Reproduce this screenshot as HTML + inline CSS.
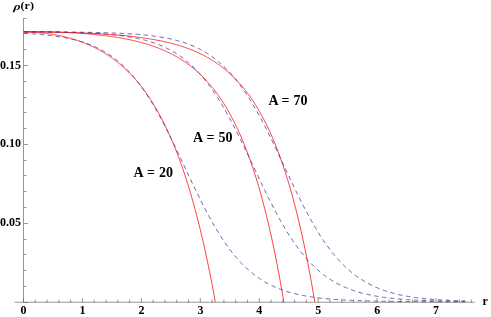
<!DOCTYPE html>
<html><head><meta charset="utf-8"><title>rho(r)</title>
<style>
html,body{margin:0;padding:0;background:#fff;}
body{width:491px;height:317px;overflow:hidden;font-family:"Liberation Serif",serif;}
svg{display:block;}
</style></head><body>
<svg width="491" height="317" viewBox="0 0 491 317">
<defs><filter id="gs" x="-0.02" y="-0.02" width="1.04" height="1.04" filterUnits="objectBoundingBox"><feOffset dx="0" dy="0"/></filter></defs>
<rect width="491" height="317" fill="#ffffff"/>
<path d="M23.70 32.12 L24.34 32.12 L24.98 32.12 L25.62 32.13 L26.26 32.14 L26.90 32.15 L27.54 32.16 L28.19 32.17 L28.83 32.19 L29.47 32.21 L30.11 32.23 L30.75 32.25 L31.39 32.28 L32.03 32.30 L32.67 32.33 L33.31 32.37 L33.95 32.40 L34.59 32.44 L35.23 32.47 L35.87 32.52 L36.51 32.56 L37.16 32.60 L37.80 32.65 L38.44 32.70 L39.08 32.75 L39.72 32.81 L40.36 32.86 L41.00 32.92 L41.64 32.98 L42.28 33.05 L42.92 33.11 L43.56 33.18 L44.20 33.25 L44.84 33.32 L45.49 33.40 L46.13 33.48 L46.77 33.56 L47.41 33.64 L48.05 33.72 L48.69 33.81 L49.33 33.90 L49.97 33.99 L50.61 34.09 L51.25 34.18 L51.89 34.28 L52.53 34.38 L53.17 34.49 L53.81 34.59 L54.46 34.70 L55.10 34.82 L55.74 34.93 L56.38 35.05 L57.02 35.17 L57.66 35.29 L58.30 35.41 L58.94 35.54 L59.58 35.67 L60.22 35.80 L60.86 35.94 L61.50 36.08 L62.14 36.22 L62.79 36.36 L63.43 36.51 L64.07 36.66 L64.71 36.81 L65.35 36.97 L65.99 37.12 L66.63 37.28 L67.27 37.45 L67.91 37.62 L68.55 37.78 L69.19 37.96 L69.83 38.13 L70.47 38.31 L71.11 38.49 L71.76 38.68 L72.40 38.87 L73.04 39.06 L73.68 39.25 L74.32 39.45 L74.96 39.65 L75.60 39.85 L76.24 40.06 L76.88 40.27 L77.52 40.49 L78.16 40.70 L78.80 40.92 L79.44 41.15 L80.08 41.38 L80.73 41.61 L81.37 41.84 L82.01 42.08 L82.65 42.32 L83.29 42.57 L83.93 42.82 L84.57 43.07 L85.21 43.33 L85.85 43.59 L86.49 43.85 L87.13 44.12 L87.77 44.39 L88.41 44.67 L89.06 44.95 L89.70 45.23 L90.34 45.52 L90.98 45.81 L91.62 46.11 L92.26 46.41 L92.90 46.72 L93.54 47.02 L94.18 47.34 L94.82 47.66 L95.46 47.98 L96.10 48.31 L96.74 48.64 L97.38 48.97 L98.03 49.31 L98.67 49.66 L99.31 50.01 L99.95 50.36 L100.59 50.72 L101.23 51.09 L101.87 51.46 L102.51 51.83 L103.15 52.21 L103.79 52.60 L104.43 52.98 L105.07 53.38 L105.71 53.78 L106.36 54.19 L107.00 54.60 L107.64 55.01 L108.28 55.44 L108.92 55.86 L109.56 56.30 L110.20 56.74 L110.84 57.18 L111.48 57.63 L112.12 58.09 L112.76 58.55 L113.40 59.02 L114.04 59.49 L114.68 59.97 L115.33 60.46 L115.97 60.96 L116.61 61.46 L117.25 61.96 L117.89 62.47 L118.53 62.99 L119.17 63.52 L119.81 64.05 L120.45 64.59 L121.09 65.14 L121.73 65.70 L122.37 66.26 L123.01 66.83 L123.66 67.40 L124.30 67.99 L124.94 68.58 L125.58 69.17 L126.22 69.78 L126.86 70.40 L127.50 71.02 L128.14 71.65 L128.78 72.28 L129.42 72.93 L130.06 73.58 L130.70 74.25 L131.34 74.92 L131.98 75.60 L132.63 76.29 L133.27 76.98 L133.91 77.69 L134.55 78.40 L135.19 79.13 L135.83 79.86 L136.47 80.60 L137.11 81.36 L137.75 82.12 L138.39 82.89 L139.03 83.67 L139.67 84.46 L140.31 85.26 L140.96 86.07 L141.60 86.90 L142.24 87.73 L142.88 88.57 L143.52 89.42 L144.16 90.29 L144.80 91.16 L145.44 92.05 L146.08 92.95 L146.72 93.86 L147.36 94.78 L148.00 95.71 L148.64 96.65 L149.28 97.61 L149.93 98.58 L150.57 99.56 L151.21 100.55 L151.85 101.56 L152.49 102.57 L153.13 103.61 L153.77 104.65 L154.41 105.71 L155.05 106.78 L155.69 107.86 L156.33 108.96 L156.97 110.07 L157.61 111.20 L158.25 112.34 L158.90 113.49 L159.54 114.66 L160.18 115.85 L160.82 117.05 L161.46 118.26 L162.10 119.49 L162.74 120.74 L163.38 122.00 L164.02 123.28 L164.66 124.57 L165.30 125.88 L165.94 127.21 L166.58 128.55 L167.23 129.91 L167.87 131.29 L168.51 132.69 L169.15 134.10 L169.79 135.53 L170.43 136.98 L171.07 138.45 L171.71 139.94 L172.35 141.44 L172.99 142.97 L173.63 144.51 L174.27 146.08 L174.91 147.66 L175.55 149.27 L176.20 150.89 L176.84 152.54 L177.48 154.20 L178.12 155.89 L178.76 157.60 L179.40 159.33 L180.04 161.08 L180.68 162.86 L181.32 164.66 L181.96 166.48 L182.60 168.32 L183.24 170.19 L183.88 172.08 L184.53 174.00 L185.17 175.94 L185.81 177.91 L186.45 179.90 L187.09 181.91 L187.73 183.96 L188.37 186.02 L189.01 188.12 L189.65 190.24 L190.29 192.39 L190.93 194.57 L191.57 196.77 L192.21 199.00 L192.85 201.27 L193.50 203.56 L194.14 205.88 L194.78 208.23 L195.42 210.61 L196.06 213.02 L196.70 215.46 L197.34 217.93 L197.98 220.44 L198.62 222.97 L199.26 225.54 L199.90 228.15 L200.54 230.78 L201.18 233.46 L201.83 236.16 L202.47 238.90 L203.11 241.68 L203.75 244.49 L204.39 247.34 L205.03 250.22 L205.67 253.14 L206.31 256.10 L206.95 259.10 L207.59 262.14 L208.23 265.21 L208.87 268.33 L209.51 271.49 L210.15 274.68 L210.80 277.92 L211.44 281.20 L212.08 284.53 L212.72 287.89 L213.36 291.30 L214.00 294.76 L214.64 298.26 L215.28 301.80" fill="none" stroke="#ff0000" stroke-width="0.75"/>
<path d="M23.70 33.33 L24.81 33.39 L25.91 33.45 L27.02 33.52 L28.13 33.58 L29.23 33.65 L30.34 33.72 L31.45 33.80 L32.55 33.87 L33.66 33.95 L34.77 34.03 L35.87 34.11 L36.98 34.20 L38.09 34.29 L39.19 34.38 L40.30 34.48 L41.41 34.58 L42.51 34.68 L43.62 34.79 L44.72 34.90 L45.83 35.01 L46.94 35.13 L48.04 35.25 L49.15 35.38 L50.26 35.51 L51.36 35.65 L52.47 35.78 L53.58 35.93 L54.68 36.08 L55.79 36.23 L56.90 36.39 L58.00 36.56 L59.11 36.73 L60.22 36.91 L61.32 37.09 L62.43 37.28 L63.54 37.47 L64.64 37.68 L65.75 37.89 L66.86 38.10 L67.96 38.33 L69.07 38.56 L70.18 38.80 L71.28 39.04 L72.39 39.30 L73.50 39.56 L74.60 39.83 L75.71 40.11 L76.82 40.40 L77.92 40.71 L79.03 41.02 L80.14 41.34 L81.24 41.67 L82.35 42.01 L83.46 42.36 L84.56 42.73 L85.67 43.10 L86.77 43.49 L87.88 43.89 L88.99 44.31 L90.09 44.74 L91.20 45.18 L92.31 45.63 L93.41 46.10 L94.52 46.59 L95.63 47.09 L96.73 47.60 L97.84 48.13 L98.95 48.68 L100.05 49.25 L101.16 49.83 L102.27 50.43 L103.37 51.05 L104.48 51.69 L105.59 52.34 L106.69 53.02 L107.80 53.72 L108.91 54.43 L110.01 55.17 L111.12 55.93 L112.23 56.71 L113.33 57.52 L114.44 58.35 L115.55 59.20 L116.65 60.07 L117.76 60.97 L118.87 61.89 L119.97 62.84 L121.08 63.82 L122.19 64.82 L123.29 65.85 L124.40 66.91 L125.51 67.99 L126.61 69.10 L127.72 70.24 L128.82 71.41 L129.93 72.60 L131.04 73.83 L132.14 75.09 L133.25 76.37 L134.36 77.69 L135.46 79.04 L136.57 80.42 L137.68 81.82 L138.78 83.26 L139.89 84.74 L141.00 86.24 L142.10 87.78 L143.21 89.34 L144.32 90.94 L145.42 92.57 L146.53 94.23 L147.64 95.92 L148.74 97.65 L149.85 99.40 L150.96 101.19 L152.06 103.00 L153.17 104.85 L154.28 106.73 L155.38 108.63 L156.49 110.57 L157.60 112.53 L158.70 114.52 L159.81 116.53 L160.92 118.58 L162.02 120.65 L163.13 122.74 L164.24 124.86 L165.34 127.00 L166.45 129.16 L167.56 131.34 L168.66 133.55 L169.77 135.77 L170.87 138.01 L171.98 140.27 L173.09 142.54 L174.19 144.83 L175.30 147.13 L176.41 149.44 L177.51 151.76 L178.62 154.09 L179.73 156.43 L180.83 158.77 L181.94 161.12 L183.05 163.47 L184.15 165.83 L185.26 168.18 L186.37 170.54 L187.47 172.89 L188.58 175.24 L189.69 177.58 L190.79 179.92 L191.90 182.25 L193.01 184.57 L194.11 186.88 L195.22 189.17 L196.33 191.46 L197.43 193.72 L198.54 195.98 L199.65 198.21 L200.75 200.43 L201.86 202.63 L202.97 204.81 L204.07 206.97 L205.18 209.10 L206.29 211.21 L207.39 213.30 L208.50 215.36 L209.61 217.40 L210.71 219.41 L211.82 221.39 L212.92 223.35 L214.03 225.28 L215.14 227.17 L216.24 229.04 L217.35 230.88 L218.46 232.69 L219.56 234.47 L220.67 236.22 L221.78 237.93 L222.88 239.62 L223.99 241.27 L225.10 242.89 L226.20 244.48 L227.31 246.04 L228.42 247.57 L229.52 249.07 L230.63 250.53 L231.74 251.96 L232.84 253.37 L233.95 254.74 L235.06 256.08 L236.16 257.39 L237.27 258.67 L238.38 259.91 L239.48 261.13 L240.59 262.32 L241.70 263.48 L242.80 264.62 L243.91 265.72 L245.02 266.80 L246.12 267.85 L247.23 268.87 L248.34 269.86 L249.44 270.83 L250.55 271.78 L251.66 272.69 L252.76 273.59 L253.87 274.46 L254.97 275.30 L256.08 276.12 L257.19 276.92 L258.29 277.70 L259.40 278.45 L260.51 279.19 L261.61 279.90 L262.72 280.59 L263.83 281.26 L264.93 281.91 L266.04 282.55 L267.15 283.16 L268.25 283.76 L269.36 284.34 L270.47 284.90 L271.57 285.44 L272.68 285.97 L273.79 286.48 L274.89 286.98 L276.00 287.46 L277.11 287.92 L278.21 288.38 L279.32 288.81 L280.43 289.24 L281.53 289.65 L282.64 290.05 L283.75 290.43 L284.85 290.81 L285.96 291.17 L287.07 291.52 L288.17 291.86 L289.28 292.19 L290.39 292.51 L291.49 292.81 L292.60 293.11 L293.71 293.40 L294.81 293.68 L295.92 293.95 L297.02 294.21 L298.13 294.46 L299.24 294.71 L300.34 294.95 L301.45 295.18 L302.56 295.40 L303.66 295.61 L304.77 295.82 L305.88 296.02 L306.98 296.21 L308.09 296.40 L309.20 296.58 L310.30 296.76 L311.41 296.93 L312.52 297.09 L313.62 297.25 L314.73 297.40 L315.84 297.55 L316.94 297.70 L318.05 297.83 L319.16 297.97 L320.26 298.10 L321.37 298.22 L322.48 298.34 L323.58 298.46 L324.69 298.57 L325.80 298.68 L326.90 298.79 L328.01 298.89 L329.12 298.99 L330.22 299.09 L331.33 299.18 L332.44 299.27 L333.54 299.35 L334.65 299.44 L335.76 299.52 L336.86 299.59 L337.97 299.67 L339.07 299.74 L340.18 299.81 L341.29 299.88 L342.39 299.94 L343.50 300.01 L344.61 300.07 L345.71 300.13 L346.82 300.18 L347.93 300.24 L349.03 300.29 L350.14 300.34 L351.25 300.39 L352.35 300.44 L353.46 300.49 L354.57 300.53 L355.67 300.58 L356.78 300.62 L357.89 300.66 L358.99 300.70 L360.10 300.73 L361.21 300.77 L362.31 300.81 L363.42 300.84 L364.53 300.87 L365.63 300.90 L366.74 300.94 L367.85 300.96 L368.95 300.99 L370.06 301.02 L371.17 301.05 L372.27 301.07 L373.38 301.10 L374.49 301.12 L375.59 301.15 L376.70 301.17 L377.81 301.19 L378.91 301.21 L380.02 301.23 L381.12 301.25 L382.23 301.27 L383.34 301.29 L384.44 301.30 L385.55 301.32 L386.66 301.34 L387.76 301.35 L388.87 301.37 L389.98 301.38 L391.08 301.40 L392.19 301.41 L393.30 301.42 L394.40 301.44 L395.51 301.45 L396.62 301.46 L397.72 301.47 L398.83 301.48 L399.94 301.50 L401.04 301.51 L402.15 301.52 L403.26 301.53 L404.36 301.54 L405.47 301.54 L406.58 301.55 L407.68 301.56 L408.79 301.57 L409.90 301.58 L411.00 301.59 L412.11 301.59 L413.22 301.60 L414.32 301.61 L415.43 301.61 L416.54 301.62 L417.64 301.63 L418.75 301.63 L419.86 301.64 L420.96 301.64 L422.07 301.65 L423.17 301.65 L424.28 301.66 L425.39 301.66 L426.49 301.67 L427.60 301.67 L428.71 301.68 L429.81 301.68 L430.92 301.69 L432.03 301.69 L433.13 301.69 L434.24 301.70 L435.35 301.70 L436.45 301.70 L437.56 301.71 L438.67 301.71 L439.77 301.71 L440.88 301.72 L441.99 301.72 L443.09 301.72 L444.20 301.72 L445.31 301.73 L446.41 301.73 L447.52 301.73 L448.63 301.73 L449.73 301.74 L450.84 301.74 L451.95 301.74 L453.05 301.74 L454.16 301.74 L455.27 301.75 L456.37 301.75 L457.48 301.75 L458.59 301.75 L459.69 301.75 L460.80 301.76 L461.91 301.76 L463.01 301.76 L464.12 301.76 L465.22 301.76" fill="none" stroke="#3d3d99" stroke-width="0.8" stroke-dasharray="4.5 3.5"/>
<path d="M23.70 31.49 L24.57 31.49 L25.44 31.49 L26.31 31.49 L27.18 31.49 L28.05 31.50 L28.92 31.50 L29.79 31.51 L30.66 31.51 L31.53 31.52 L32.40 31.53 L33.27 31.54 L34.14 31.54 L35.01 31.55 L35.88 31.56 L36.75 31.58 L37.62 31.59 L38.49 31.60 L39.36 31.61 L40.23 31.63 L41.10 31.64 L41.97 31.66 L42.84 31.68 L43.71 31.70 L44.58 31.71 L45.45 31.73 L46.32 31.75 L47.19 31.78 L48.06 31.80 L48.93 31.82 L49.80 31.84 L50.67 31.87 L51.54 31.89 L52.41 31.92 L53.28 31.95 L54.15 31.98 L55.02 32.01 L55.89 32.04 L56.76 32.07 L57.63 32.10 L58.50 32.13 L59.37 32.17 L60.24 32.20 L61.11 32.24 L61.98 32.27 L62.85 32.31 L63.72 32.35 L64.59 32.39 L65.46 32.43 L66.33 32.47 L67.20 32.52 L68.07 32.56 L68.94 32.60 L69.81 32.65 L70.68 32.70 L71.55 32.75 L72.42 32.80 L73.29 32.85 L74.16 32.90 L75.03 32.95 L75.90 33.01 L76.77 33.06 L77.64 33.12 L78.51 33.18 L79.38 33.24 L80.25 33.30 L81.12 33.36 L81.99 33.43 L82.86 33.49 L83.73 33.56 L84.60 33.62 L85.47 33.69 L86.34 33.76 L87.21 33.84 L88.08 33.91 L88.95 33.98 L89.82 34.06 L90.69 34.14 L91.56 34.22 L92.43 34.30 L93.29 34.38 L94.16 34.47 L95.03 34.55 L95.90 34.64 L96.77 34.73 L97.64 34.82 L98.51 34.92 L99.38 35.01 L100.25 35.11 L101.12 35.21 L101.99 35.31 L102.86 35.41 L103.73 35.52 L104.60 35.62 L105.47 35.73 L106.34 35.84 L107.21 35.96 L108.08 36.07 L108.95 36.19 L109.82 36.31 L110.69 36.43 L111.56 36.56 L112.43 36.68 L113.30 36.81 L114.17 36.94 L115.04 37.08 L115.91 37.21 L116.78 37.35 L117.65 37.49 L118.52 37.64 L119.39 37.78 L120.26 37.93 L121.13 38.09 L122.00 38.24 L122.87 38.40 L123.74 38.56 L124.61 38.73 L125.48 38.89 L126.35 39.06 L127.22 39.24 L128.09 39.41 L128.96 39.59 L129.83 39.78 L130.70 39.96 L131.57 40.16 L132.44 40.35 L133.31 40.55 L134.18 40.75 L135.05 40.95 L135.92 41.16 L136.79 41.37 L137.66 41.59 L138.53 41.81 L139.40 42.04 L140.27 42.26 L141.14 42.50 L142.01 42.73 L142.88 42.98 L143.75 43.22 L144.62 43.47 L145.49 43.73 L146.36 43.99 L147.23 44.25 L148.10 44.52 L148.97 44.80 L149.84 45.08 L150.71 45.36 L151.58 45.65 L152.45 45.95 L153.32 46.25 L154.19 46.56 L155.06 46.87 L155.93 47.19 L156.80 47.51 L157.67 47.84 L158.54 48.18 L159.41 48.52 L160.28 48.87 L161.15 49.22 L162.02 49.58 L162.89 49.95 L163.76 50.33 L164.63 50.71 L165.50 51.10 L166.37 51.50 L167.24 51.90 L168.11 52.31 L168.98 52.73 L169.85 53.16 L170.72 53.60 L171.59 54.04 L172.46 54.49 L173.33 54.95 L174.20 55.42 L175.07 55.90 L175.94 56.38 L176.81 56.88 L177.68 57.38 L178.55 57.90 L179.42 58.42 L180.29 58.95 L181.16 59.50 L182.03 60.05 L182.90 60.61 L183.77 61.19 L184.64 61.77 L185.51 62.37 L186.38 62.98 L187.25 63.60 L188.12 64.23 L188.99 64.87 L189.86 65.53 L190.73 66.19 L191.60 66.87 L192.47 67.56 L193.34 68.27 L194.21 68.99 L195.08 69.72 L195.95 70.47 L196.82 71.23 L197.69 72.00 L198.56 72.79 L199.43 73.60 L200.30 74.42 L201.17 75.25 L202.04 76.10 L202.91 76.97 L203.78 77.85 L204.65 78.75 L205.52 79.67 L206.39 80.60 L207.26 81.56 L208.13 82.53 L209.00 83.52 L209.87 84.52 L210.74 85.55 L211.61 86.60 L212.48 87.66 L213.35 88.75 L214.22 89.86 L215.09 90.99 L215.96 92.14 L216.83 93.31 L217.70 94.51 L218.57 95.72 L219.44 96.96 L220.31 98.23 L221.18 99.52 L222.05 100.83 L222.92 102.17 L223.79 103.53 L224.66 104.92 L225.53 106.34 L226.40 107.79 L227.27 109.26 L228.14 110.76 L229.01 112.29 L229.88 113.85 L230.75 115.44 L231.61 117.06 L232.48 118.71 L233.35 120.39 L234.22 122.11 L235.09 123.85 L235.96 125.64 L236.83 127.45 L237.70 129.30 L238.57 131.19 L239.44 133.11 L240.31 135.07 L241.18 137.07 L242.05 139.11 L242.92 141.19 L243.79 143.31 L244.66 145.46 L245.53 147.66 L246.40 149.91 L247.27 152.19 L248.14 154.52 L249.01 156.90 L249.88 159.32 L250.75 161.79 L251.62 164.31 L252.49 166.88 L253.36 169.49 L254.23 172.16 L255.10 174.88 L255.97 177.65 L256.84 180.48 L257.71 183.36 L258.58 186.30 L259.45 189.29 L260.32 192.35 L261.19 195.46 L262.06 198.63 L262.93 201.87 L263.80 205.17 L264.67 208.53 L265.54 211.96 L266.41 215.46 L267.28 219.03 L268.15 222.66 L269.02 226.37 L269.89 230.15 L270.76 234.00 L271.63 237.93 L272.50 241.94 L273.37 246.02 L274.24 250.19 L275.11 254.44 L275.98 258.77 L276.85 263.19 L277.72 267.69 L278.59 272.28 L279.46 276.96 L280.33 281.74 L281.20 286.61 L282.07 291.57 L282.94 296.64 L283.81 301.80" fill="none" stroke="#ff0000" stroke-width="0.75"/>
<path d="M23.70 31.69 L24.81 31.70 L25.91 31.70 L27.02 31.71 L28.13 31.72 L29.23 31.73 L30.34 31.74 L31.45 31.75 L32.55 31.75 L33.66 31.76 L34.77 31.77 L35.87 31.78 L36.98 31.79 L38.09 31.80 L39.19 31.82 L40.30 31.83 L41.41 31.84 L42.51 31.85 L43.62 31.86 L44.72 31.88 L45.83 31.89 L46.94 31.91 L48.04 31.92 L49.15 31.94 L50.26 31.95 L51.36 31.97 L52.47 31.98 L53.58 32.00 L54.68 32.02 L55.79 32.04 L56.90 32.06 L58.00 32.08 L59.11 32.10 L60.22 32.12 L61.32 32.14 L62.43 32.17 L63.54 32.19 L64.64 32.21 L65.75 32.24 L66.86 32.27 L67.96 32.29 L69.07 32.32 L70.18 32.35 L71.28 32.38 L72.39 32.41 L73.50 32.44 L74.60 32.48 L75.71 32.51 L76.82 32.55 L77.92 32.59 L79.03 32.62 L80.14 32.66 L81.24 32.71 L82.35 32.75 L83.46 32.79 L84.56 32.84 L85.67 32.89 L86.77 32.94 L87.88 32.99 L88.99 33.04 L90.09 33.09 L91.20 33.15 L92.31 33.21 L93.41 33.27 L94.52 33.33 L95.63 33.39 L96.73 33.46 L97.84 33.53 L98.95 33.60 L100.05 33.68 L101.16 33.75 L102.27 33.83 L103.37 33.91 L104.48 34.00 L105.59 34.09 L106.69 34.18 L107.80 34.27 L108.91 34.37 L110.01 34.47 L111.12 34.57 L112.23 34.68 L113.33 34.79 L114.44 34.91 L115.55 35.03 L116.65 35.15 L117.76 35.28 L118.87 35.41 L119.97 35.54 L121.08 35.68 L122.19 35.83 L123.29 35.98 L124.40 36.14 L125.51 36.30 L126.61 36.46 L127.72 36.64 L128.82 36.81 L129.93 37.00 L131.04 37.19 L132.14 37.39 L133.25 37.59 L134.36 37.80 L135.46 38.02 L136.57 38.24 L137.68 38.47 L138.78 38.71 L139.89 38.96 L141.00 39.22 L142.10 39.48 L143.21 39.75 L144.32 40.04 L145.42 40.33 L146.53 40.63 L147.64 40.94 L148.74 41.26 L149.85 41.59 L150.96 41.94 L152.06 42.29 L153.17 42.66 L154.28 43.03 L155.38 43.42 L156.49 43.82 L157.60 44.24 L158.70 44.67 L159.81 45.11 L160.92 45.56 L162.02 46.03 L163.13 46.52 L164.24 47.02 L165.34 47.53 L166.45 48.07 L167.56 48.61 L168.66 49.18 L169.77 49.76 L170.87 50.36 L171.98 50.98 L173.09 51.61 L174.19 52.27 L175.30 52.94 L176.41 53.64 L177.51 54.36 L178.62 55.09 L179.73 55.85 L180.83 56.63 L181.94 57.43 L183.05 58.26 L184.15 59.10 L185.26 59.97 L186.37 60.87 L187.47 61.79 L188.58 62.74 L189.69 63.71 L190.79 64.70 L191.90 65.73 L193.01 66.78 L194.11 67.86 L195.22 68.96 L196.33 70.09 L197.43 71.26 L198.54 72.45 L199.65 73.67 L200.75 74.92 L201.86 76.19 L202.97 77.50 L204.07 78.84 L205.18 80.21 L206.29 81.61 L207.39 83.04 L208.50 84.51 L209.61 86.00 L210.71 87.52 L211.82 89.08 L212.92 90.67 L214.03 92.29 L215.14 93.93 L216.24 95.62 L217.35 97.33 L218.46 99.07 L219.56 100.84 L220.67 102.64 L221.78 104.48 L222.88 106.34 L223.99 108.23 L225.10 110.15 L226.20 112.10 L227.31 114.07 L228.42 116.08 L229.52 118.10 L230.63 120.16 L231.74 122.24 L232.84 124.34 L233.95 126.46 L235.06 128.61 L236.16 130.78 L237.27 132.97 L238.38 135.17 L239.48 137.40 L240.59 139.64 L241.70 141.90 L242.80 144.17 L243.91 146.45 L245.02 148.75 L246.12 151.06 L247.23 153.37 L248.34 155.70 L249.44 158.03 L250.55 160.36 L251.66 162.70 L252.76 165.05 L253.87 167.39 L254.97 169.73 L256.08 172.07 L257.19 174.41 L258.29 176.74 L259.40 179.07 L260.51 181.39 L261.61 183.70 L262.72 186.00 L263.83 188.29 L264.93 190.57 L266.04 192.83 L267.15 195.08 L268.25 197.31 L269.36 199.52 L270.47 201.72 L271.57 203.89 L272.68 206.05 L273.79 208.18 L274.89 210.29 L276.00 212.38 L277.11 214.44 L278.21 216.48 L279.32 218.49 L280.43 220.47 L281.53 222.43 L282.64 224.36 L283.75 226.26 L284.85 228.14 L285.96 229.98 L287.07 231.79 L288.17 233.58 L289.28 235.33 L290.39 237.05 L291.49 238.75 L292.60 240.41 L293.71 242.04 L294.81 243.63 L295.92 245.20 L297.02 246.74 L298.13 248.24 L299.24 249.72 L300.34 251.16 L301.45 252.57 L302.56 253.95 L303.66 255.30 L304.77 256.62 L305.88 257.91 L306.98 259.17 L308.09 260.40 L309.20 261.60 L310.30 262.77 L311.41 263.92 L312.52 265.03 L313.62 266.12 L314.73 267.18 L315.84 268.21 L316.94 269.22 L318.05 270.20 L319.16 271.16 L320.26 272.09 L321.37 272.99 L322.48 273.87 L323.58 274.73 L324.69 275.56 L325.80 276.37 L326.90 277.16 L328.01 277.92 L329.12 278.67 L330.22 279.39 L331.33 280.09 L332.44 280.78 L333.54 281.44 L334.65 282.08 L335.76 282.71 L336.86 283.31 L337.97 283.90 L339.07 284.47 L340.18 285.03 L341.29 285.56 L342.39 286.08 L343.50 286.59 L344.61 287.08 L345.71 287.55 L346.82 288.02 L347.93 288.46 L349.03 288.89 L350.14 289.31 L351.25 289.72 L352.35 290.11 L353.46 290.50 L354.57 290.87 L355.67 291.22 L356.78 291.57 L357.89 291.91 L358.99 292.23 L360.10 292.55 L361.21 292.85 L362.31 293.15 L363.42 293.43 L364.53 293.71 L365.63 293.98 L366.74 294.24 L367.85 294.49 L368.95 294.73 L370.06 294.96 L371.17 295.19 L372.27 295.41 L373.38 295.62 L374.49 295.83 L375.59 296.03 L376.70 296.22 L377.81 296.41 L378.91 296.59 L380.02 296.76 L381.12 296.93 L382.23 297.09 L383.34 297.25 L384.44 297.40 L385.55 297.55 L386.66 297.69 L387.76 297.83 L388.87 297.97 L389.98 298.09 L391.08 298.22 L392.19 298.34 L393.30 298.46 L394.40 298.57 L395.51 298.68 L396.62 298.78 L397.72 298.88 L398.83 298.98 L399.94 299.08 L401.04 299.17 L402.15 299.26 L403.26 299.34 L404.36 299.43 L405.47 299.51 L406.58 299.58 L407.68 299.66 L408.79 299.73 L409.90 299.80 L411.00 299.87 L412.11 299.94 L413.22 300.00 L414.32 300.06 L415.43 300.12 L416.54 300.18 L417.64 300.23 L418.75 300.28 L419.86 300.33 L420.96 300.38 L422.07 300.43 L423.17 300.48 L424.28 300.52 L425.39 300.57 L426.49 300.61 L427.60 300.65 L428.71 300.69 L429.81 300.73 L430.92 300.76 L432.03 300.80 L433.13 300.83 L434.24 300.86 L435.35 300.90 L436.45 300.93 L437.56 300.96 L438.67 300.99 L439.77 301.01 L440.88 301.04 L441.99 301.07 L443.09 301.09 L444.20 301.11 L445.31 301.14 L446.41 301.16 L447.52 301.18 L448.63 301.20 L449.73 301.22 L450.84 301.24 L451.95 301.26 L453.05 301.28 L454.16 301.30 L455.27 301.32 L456.37 301.33 L457.48 301.35 L458.59 301.36 L459.69 301.38 L460.80 301.39 L461.91 301.41 L463.01 301.42 L464.12 301.43 L465.22 301.44" fill="none" stroke="#3d3d99" stroke-width="0.8" stroke-dasharray="4.5 3.5"/>
<path d="M23.70 31.96 L24.67 31.96 L25.65 31.96 L26.62 31.96 L27.59 31.97 L28.57 31.97 L29.54 31.97 L30.51 31.97 L31.49 31.98 L32.46 31.98 L33.44 31.99 L34.41 31.99 L35.38 32.00 L36.36 32.00 L37.33 32.01 L38.30 32.02 L39.28 32.03 L40.25 32.03 L41.22 32.04 L42.20 32.05 L43.17 32.06 L44.14 32.07 L45.12 32.08 L46.09 32.09 L47.06 32.11 L48.04 32.12 L49.01 32.13 L49.98 32.15 L50.96 32.16 L51.93 32.18 L52.91 32.19 L53.88 32.21 L54.85 32.22 L55.83 32.24 L56.80 32.26 L57.77 32.28 L58.75 32.29 L59.72 32.31 L60.69 32.33 L61.67 32.36 L62.64 32.38 L63.61 32.40 L64.59 32.42 L65.56 32.45 L66.53 32.47 L67.51 32.49 L68.48 32.52 L69.45 32.55 L70.43 32.57 L71.40 32.60 L72.38 32.63 L73.35 32.66 L74.32 32.69 L75.30 32.72 L76.27 32.75 L77.24 32.78 L78.22 32.81 L79.19 32.85 L80.16 32.88 L81.14 32.92 L82.11 32.95 L83.08 32.99 L84.06 33.03 L85.03 33.07 L86.00 33.11 L86.98 33.15 L87.95 33.19 L88.92 33.23 L89.90 33.28 L90.87 33.32 L91.85 33.37 L92.82 33.42 L93.79 33.46 L94.77 33.51 L95.74 33.56 L96.71 33.61 L97.69 33.66 L98.66 33.72 L99.63 33.77 L100.61 33.83 L101.58 33.89 L102.55 33.94 L103.53 34.00 L104.50 34.06 L105.47 34.13 L106.45 34.19 L107.42 34.25 L108.39 34.32 L109.37 34.39 L110.34 34.46 L111.32 34.53 L112.29 34.60 L113.26 34.67 L114.24 34.75 L115.21 34.82 L116.18 34.90 L117.16 34.98 L118.13 35.06 L119.10 35.14 L120.08 35.23 L121.05 35.32 L122.02 35.40 L123.00 35.49 L123.97 35.59 L124.94 35.68 L125.92 35.78 L126.89 35.87 L127.86 35.97 L128.84 36.08 L129.81 36.18 L130.79 36.29 L131.76 36.39 L132.73 36.51 L133.71 36.62 L134.68 36.73 L135.65 36.85 L136.63 36.97 L137.60 37.09 L138.57 37.22 L139.55 37.35 L140.52 37.48 L141.49 37.61 L142.47 37.75 L143.44 37.88 L144.41 38.03 L145.39 38.17 L146.36 38.32 L147.33 38.47 L148.31 38.62 L149.28 38.78 L150.26 38.94 L151.23 39.10 L152.20 39.27 L153.18 39.44 L154.15 39.61 L155.12 39.79 L156.10 39.97 L157.07 40.15 L158.04 40.34 L159.02 40.54 L159.99 40.73 L160.96 40.93 L161.94 41.14 L162.91 41.35 L163.88 41.56 L164.86 41.78 L165.83 42.00 L166.80 42.22 L167.78 42.46 L168.75 42.69 L169.73 42.93 L170.70 43.18 L171.67 43.43 L172.65 43.69 L173.62 43.95 L174.59 44.22 L175.57 44.49 L176.54 44.77 L177.51 45.05 L178.49 45.34 L179.46 45.64 L180.43 45.94 L181.41 46.25 L182.38 46.56 L183.35 46.89 L184.33 47.21 L185.30 47.55 L186.27 47.89 L187.25 48.24 L188.22 48.60 L189.20 48.96 L190.17 49.33 L191.14 49.71 L192.12 50.10 L193.09 50.50 L194.06 50.90 L195.04 51.32 L196.01 51.74 L196.98 52.17 L197.96 52.61 L198.93 53.06 L199.90 53.51 L200.88 53.98 L201.85 54.46 L202.82 54.95 L203.80 55.45 L204.77 55.95 L205.74 56.47 L206.72 57.00 L207.69 57.55 L208.67 58.10 L209.64 58.66 L210.61 59.24 L211.59 59.83 L212.56 60.43 L213.53 61.05 L214.51 61.67 L215.48 62.32 L216.45 62.97 L217.43 63.64 L218.40 64.32 L219.37 65.02 L220.35 65.73 L221.32 66.46 L222.29 67.20 L223.27 67.96 L224.24 68.74 L225.21 69.53 L226.19 70.34 L227.16 71.16 L228.14 72.01 L229.11 72.87 L230.08 73.75 L231.06 74.65 L232.03 75.57 L233.00 76.50 L233.98 77.46 L234.95 78.44 L235.92 79.44 L236.90 80.46 L237.87 81.51 L238.84 82.57 L239.82 83.66 L240.79 84.78 L241.76 85.91 L242.74 87.07 L243.71 88.26 L244.68 89.47 L245.66 90.71 L246.63 91.98 L247.61 93.27 L248.58 94.59 L249.55 95.94 L250.53 97.31 L251.50 98.72 L252.47 100.16 L253.45 101.63 L254.42 103.13 L255.39 104.67 L256.37 106.24 L257.34 107.84 L258.31 109.47 L259.29 111.15 L260.26 112.85 L261.23 114.60 L262.21 116.38 L263.18 118.21 L264.15 120.07 L265.13 121.97 L266.10 123.92 L267.08 125.91 L268.05 127.94 L269.02 130.01 L270.00 132.13 L270.97 134.30 L271.94 136.51 L272.92 138.78 L273.89 141.09 L274.86 143.45 L275.84 145.87 L276.81 148.34 L277.78 150.86 L278.76 153.44 L279.73 156.07 L280.70 158.76 L281.68 161.51 L282.65 164.32 L283.62 167.20 L284.60 170.14 L285.57 173.14 L286.55 176.20 L287.52 179.34 L288.49 182.54 L289.47 185.82 L290.44 189.17 L291.41 192.59 L292.39 196.08 L293.36 199.66 L294.33 203.31 L295.31 207.04 L296.28 210.86 L297.25 214.76 L298.23 218.75 L299.20 222.82 L300.17 226.99 L301.15 231.25 L302.12 235.60 L303.09 240.05 L304.07 244.59 L305.04 249.24 L306.02 253.99 L306.99 258.85 L307.96 263.82 L308.94 268.89 L309.91 274.08 L310.88 279.38 L311.86 284.80 L312.83 290.34 L313.80 296.01 L314.78 301.80" fill="none" stroke="#ff0000" stroke-width="0.75"/>
<path d="M23.70 31.87 L24.81 31.88 L25.91 31.88 L27.02 31.88 L28.13 31.89 L29.23 31.89 L30.34 31.89 L31.45 31.89 L32.55 31.90 L33.66 31.90 L34.77 31.90 L35.87 31.91 L36.98 31.91 L38.09 31.92 L39.19 31.92 L40.30 31.92 L41.41 31.93 L42.51 31.93 L43.62 31.94 L44.72 31.94 L45.83 31.95 L46.94 31.95 L48.04 31.96 L49.15 31.96 L50.26 31.97 L51.36 31.97 L52.47 31.98 L53.58 31.99 L54.68 31.99 L55.79 32.00 L56.90 32.01 L58.00 32.01 L59.11 32.02 L60.22 32.03 L61.32 32.04 L62.43 32.04 L63.54 32.05 L64.64 32.06 L65.75 32.07 L66.86 32.08 L67.96 32.09 L69.07 32.10 L70.18 32.11 L71.28 32.12 L72.39 32.13 L73.50 32.14 L74.60 32.16 L75.71 32.17 L76.82 32.18 L77.92 32.20 L79.03 32.21 L80.14 32.22 L81.24 32.24 L82.35 32.25 L83.46 32.27 L84.56 32.29 L85.67 32.30 L86.77 32.32 L87.88 32.34 L88.99 32.36 L90.09 32.38 L91.20 32.40 L92.31 32.42 L93.41 32.44 L94.52 32.47 L95.63 32.49 L96.73 32.51 L97.84 32.54 L98.95 32.57 L100.05 32.59 L101.16 32.62 L102.27 32.65 L103.37 32.68 L104.48 32.71 L105.59 32.74 L106.69 32.78 L107.80 32.81 L108.91 32.85 L110.01 32.88 L111.12 32.92 L112.23 32.96 L113.33 33.00 L114.44 33.04 L115.55 33.09 L116.65 33.13 L117.76 33.18 L118.87 33.23 L119.97 33.28 L121.08 33.33 L122.19 33.39 L123.29 33.44 L124.40 33.50 L125.51 33.56 L126.61 33.62 L127.72 33.69 L128.82 33.75 L129.93 33.82 L131.04 33.89 L132.14 33.97 L133.25 34.04 L134.36 34.12 L135.46 34.21 L136.57 34.29 L137.68 34.38 L138.78 34.47 L139.89 34.56 L141.00 34.66 L142.10 34.76 L143.21 34.87 L144.32 34.97 L145.42 35.08 L146.53 35.20 L147.64 35.32 L148.74 35.44 L149.85 35.57 L150.96 35.70 L152.06 35.84 L153.17 35.98 L154.28 36.13 L155.38 36.28 L156.49 36.44 L157.60 36.60 L158.70 36.77 L159.81 36.94 L160.92 37.12 L162.02 37.31 L163.13 37.50 L164.24 37.70 L165.34 37.90 L166.45 38.11 L167.56 38.33 L168.66 38.56 L169.77 38.79 L170.87 39.04 L171.98 39.29 L173.09 39.55 L174.19 39.81 L175.30 40.09 L176.41 40.38 L177.51 40.67 L178.62 40.98 L179.73 41.29 L180.83 41.62 L181.94 41.95 L183.05 42.30 L184.15 42.66 L185.26 43.03 L186.37 43.41 L187.47 43.81 L188.58 44.22 L189.69 44.64 L190.79 45.07 L191.90 45.52 L193.01 45.99 L194.11 46.46 L195.22 46.96 L196.33 47.47 L197.43 47.99 L198.54 48.53 L199.65 49.09 L200.75 49.67 L201.86 50.26 L202.97 50.87 L204.07 51.50 L205.18 52.15 L206.29 52.82 L207.39 53.51 L208.50 54.22 L209.61 54.95 L210.71 55.70 L211.82 56.47 L212.92 57.27 L214.03 58.09 L215.14 58.93 L216.24 59.79 L217.35 60.69 L218.46 61.60 L219.56 62.54 L220.67 63.51 L221.78 64.50 L222.88 65.52 L223.99 66.57 L225.10 67.64 L226.20 68.75 L227.31 69.88 L228.42 71.04 L229.52 72.22 L230.63 73.44 L231.74 74.69 L232.84 75.97 L233.95 77.28 L235.06 78.62 L236.16 79.99 L237.27 81.39 L238.38 82.82 L239.48 84.29 L240.59 85.78 L241.70 87.31 L242.80 88.87 L243.91 90.46 L245.02 92.08 L246.12 93.74 L247.23 95.43 L248.34 97.14 L249.44 98.89 L250.55 100.67 L251.66 102.48 L252.76 104.33 L253.87 106.20 L254.97 108.10 L256.08 110.03 L257.19 111.99 L258.29 113.97 L259.40 115.99 L260.51 118.03 L261.61 120.09 L262.72 122.19 L263.83 124.30 L264.93 126.44 L266.04 128.60 L267.15 130.78 L268.25 132.99 L269.36 135.21 L270.47 137.45 L271.57 139.71 L272.68 141.98 L273.79 144.27 L274.89 146.57 L276.00 148.88 L277.11 151.20 L278.21 153.53 L279.32 155.87 L280.43 158.22 L281.53 160.57 L282.64 162.92 L283.75 165.28 L284.85 167.64 L285.96 169.99 L287.07 172.34 L288.17 174.69 L289.28 177.04 L290.39 179.38 L291.49 181.70 L292.60 184.02 L293.71 186.33 L294.81 188.63 L295.92 190.91 L297.02 193.18 L298.13 195.44 L299.24 197.67 L300.34 199.89 L301.45 202.09 L302.56 204.26 L303.66 206.42 L304.77 208.55 L305.88 210.66 L306.98 212.75 L308.09 214.81 L309.20 216.84 L310.30 218.85 L311.41 220.83 L312.52 222.78 L313.62 224.70 L314.73 226.60 L315.84 228.46 L316.94 230.30 L318.05 232.10 L319.16 233.88 L320.26 235.62 L321.37 237.33 L322.48 239.01 L323.58 240.66 L324.69 242.28 L325.80 243.87 L326.90 245.42 L328.01 246.95 L329.12 248.44 L330.22 249.90 L331.33 251.33 L332.44 252.73 L333.54 254.10 L334.65 255.44 L335.76 256.75 L336.86 258.03 L337.97 259.28 L339.07 260.50 L340.18 261.69 L341.29 262.85 L342.39 263.98 L343.50 265.09 L344.61 266.17 L345.71 267.22 L346.82 268.25 L347.93 269.25 L349.03 270.22 L350.14 271.17 L351.25 272.10 L352.35 273.00 L353.46 273.87 L354.57 274.73 L355.67 275.56 L356.78 276.37 L357.89 277.15 L358.99 277.92 L360.10 278.66 L361.21 279.38 L362.31 280.09 L363.42 280.77 L364.53 281.44 L365.63 282.08 L366.74 282.71 L367.85 283.32 L368.95 283.91 L370.06 284.48 L371.17 285.04 L372.27 285.58 L373.38 286.11 L374.49 286.62 L375.59 287.11 L376.70 287.59 L377.81 288.06 L378.91 288.51 L380.02 288.95 L381.12 289.37 L382.23 289.78 L383.34 290.18 L384.44 290.57 L385.55 290.94 L386.66 291.30 L387.76 291.66 L388.87 292.00 L389.98 292.33 L391.08 292.64 L392.19 292.95 L393.30 293.25 L394.40 293.54 L395.51 293.82 L396.62 294.09 L397.72 294.35 L398.83 294.61 L399.94 294.85 L401.04 295.09 L402.15 295.32 L403.26 295.54 L404.36 295.75 L405.47 295.96 L406.58 296.16 L407.68 296.35 L408.79 296.54 L409.90 296.72 L411.00 296.90 L412.11 297.06 L413.22 297.23 L414.32 297.38 L415.43 297.54 L416.54 297.68 L417.64 297.83 L418.75 297.96 L419.86 298.09 L420.96 298.22 L422.07 298.35 L423.17 298.46 L424.28 298.58 L425.39 298.69 L426.49 298.80 L427.60 298.90 L428.71 299.00 L429.81 299.10 L430.92 299.19 L432.03 299.28 L433.13 299.37 L434.24 299.45 L435.35 299.53 L436.45 299.61 L437.56 299.69 L438.67 299.76 L439.77 299.83 L440.88 299.90 L441.99 299.96 L443.09 300.03 L444.20 300.09 L445.31 300.15 L446.41 300.20 L447.52 300.26 L448.63 300.31 L449.73 300.36 L450.84 300.41 L451.95 300.46 L453.05 300.50 L454.16 300.55 L455.27 300.59 L456.37 300.63 L457.48 300.67 L458.59 300.71 L459.69 300.75 L460.80 300.79 L461.91 300.82 L463.01 300.85 L464.12 300.89 L465.22 300.92" fill="none" stroke="#3d3d99" stroke-width="0.8" stroke-dasharray="4.5 3.5"/>
<g stroke="#666666" stroke-opacity="0.68" stroke-width="1" fill="none">
<line x1="14.7" y1="302.25" x2="474.8" y2="302.25"/>
<line x1="23.50" y1="302.6" x2="23.50" y2="18.0"/>
<line x1="23.50" y1="302.75" x2="23.50" y2="298.05"/>
<line x1="35.29" y1="302.75" x2="35.29" y2="299.55"/>
<line x1="47.07" y1="302.75" x2="47.07" y2="299.55"/>
<line x1="58.86" y1="302.75" x2="58.86" y2="299.55"/>
<line x1="70.64" y1="302.75" x2="70.64" y2="299.55"/>
<line x1="82.43" y1="302.75" x2="82.43" y2="298.05"/>
<line x1="94.22" y1="302.75" x2="94.22" y2="299.55"/>
<line x1="106.00" y1="302.75" x2="106.00" y2="299.55"/>
<line x1="117.79" y1="302.75" x2="117.79" y2="299.55"/>
<line x1="129.57" y1="302.75" x2="129.57" y2="299.55"/>
<line x1="141.36" y1="302.75" x2="141.36" y2="298.05"/>
<line x1="153.15" y1="302.75" x2="153.15" y2="299.55"/>
<line x1="164.93" y1="302.75" x2="164.93" y2="299.55"/>
<line x1="176.72" y1="302.75" x2="176.72" y2="299.55"/>
<line x1="188.50" y1="302.75" x2="188.50" y2="299.55"/>
<line x1="200.29" y1="302.75" x2="200.29" y2="298.05"/>
<line x1="212.08" y1="302.75" x2="212.08" y2="299.55"/>
<line x1="223.86" y1="302.75" x2="223.86" y2="299.55"/>
<line x1="235.65" y1="302.75" x2="235.65" y2="299.55"/>
<line x1="247.43" y1="302.75" x2="247.43" y2="299.55"/>
<line x1="259.22" y1="302.75" x2="259.22" y2="298.05"/>
<line x1="271.01" y1="302.75" x2="271.01" y2="299.55"/>
<line x1="282.79" y1="302.75" x2="282.79" y2="299.55"/>
<line x1="294.58" y1="302.75" x2="294.58" y2="299.55"/>
<line x1="306.36" y1="302.75" x2="306.36" y2="299.55"/>
<line x1="318.15" y1="302.75" x2="318.15" y2="298.05"/>
<line x1="329.94" y1="302.75" x2="329.94" y2="299.55"/>
<line x1="341.72" y1="302.75" x2="341.72" y2="299.55"/>
<line x1="353.51" y1="302.75" x2="353.51" y2="299.55"/>
<line x1="365.29" y1="302.75" x2="365.29" y2="299.55"/>
<line x1="377.08" y1="302.75" x2="377.08" y2="298.05"/>
<line x1="388.87" y1="302.75" x2="388.87" y2="299.55"/>
<line x1="400.65" y1="302.75" x2="400.65" y2="299.55"/>
<line x1="412.44" y1="302.75" x2="412.44" y2="299.55"/>
<line x1="424.22" y1="302.75" x2="424.22" y2="299.55"/>
<line x1="436.01" y1="302.75" x2="436.01" y2="298.05"/>
<line x1="447.80" y1="302.75" x2="447.80" y2="299.55"/>
<line x1="459.58" y1="302.75" x2="459.58" y2="299.55"/>
<line x1="471.37" y1="302.75" x2="471.37" y2="299.55"/>
<line x1="24.00" y1="302.50" x2="28.00" y2="302.50"/>
<line x1="24.00" y1="286.50" x2="26.40" y2="286.50"/>
<line x1="24.00" y1="270.50" x2="26.40" y2="270.50"/>
<line x1="24.00" y1="254.50" x2="26.40" y2="254.50"/>
<line x1="24.00" y1="239.50" x2="26.40" y2="239.50"/>
<line x1="24.00" y1="223.50" x2="28.00" y2="223.50"/>
<line x1="24.00" y1="207.50" x2="26.40" y2="207.50"/>
<line x1="24.00" y1="191.50" x2="26.40" y2="191.50"/>
<line x1="24.00" y1="175.50" x2="26.40" y2="175.50"/>
<line x1="24.00" y1="160.50" x2="26.40" y2="160.50"/>
<line x1="24.00" y1="144.50" x2="28.00" y2="144.50"/>
<line x1="24.00" y1="128.50" x2="26.40" y2="128.50"/>
<line x1="24.00" y1="112.50" x2="26.40" y2="112.50"/>
<line x1="24.00" y1="97.50" x2="26.40" y2="97.50"/>
<line x1="24.00" y1="81.50" x2="26.40" y2="81.50"/>
<line x1="24.00" y1="65.50" x2="28.00" y2="65.50"/>
<line x1="24.00" y1="49.50" x2="26.40" y2="49.50"/>
<line x1="24.00" y1="33.50" x2="26.40" y2="33.50"/>
<line x1="24.00" y1="18.50" x2="26.40" y2="18.50"/>
</g>
<g font-family="'Liberation Serif', serif" font-weight="bold" fill="#000" filter="url(#gs)">
<text x="23.60" y="314" font-size="12" text-anchor="middle">0</text>
<text x="82.53" y="314" font-size="12" text-anchor="middle">1</text>
<text x="141.46" y="314" font-size="12" text-anchor="middle">2</text>
<text x="200.39" y="314" font-size="12" text-anchor="middle">3</text>
<text x="259.32" y="314" font-size="12" text-anchor="middle">4</text>
<text x="318.25" y="314" font-size="12" text-anchor="middle">5</text>
<text x="377.18" y="314" font-size="12" text-anchor="middle">6</text>
<text x="436.11" y="314" font-size="12" text-anchor="middle">7</text>
<text x="21.0" y="226.30" font-size="12" text-anchor="end">0.05</text>
<text x="21.0" y="147.20" font-size="12" text-anchor="end">0.10</text>
<text x="21.0" y="68.80" font-size="12" text-anchor="end">0.15</text>
<text x="133.6" y="177.2" font-size="14" word-spacing="0.6">A = 20</text>
<text x="193.1" y="142.3" font-size="14" word-spacing="0.6">A = 50</text>
<text x="268.4" y="104.6" font-size="14" word-spacing="0.35">A = 70</text>
<text transform="translate(13.3,9.5) skewX(-8) scale(1.12,0.9)" font-size="12" font-style="italic">&#961;</text>
<text transform="translate(20.6,8.9) scale(1,0.92)" font-size="12">(r)</text>
<text x="482.4" y="305" font-size="12">r</text>
</g>
</svg>
</body></html>
